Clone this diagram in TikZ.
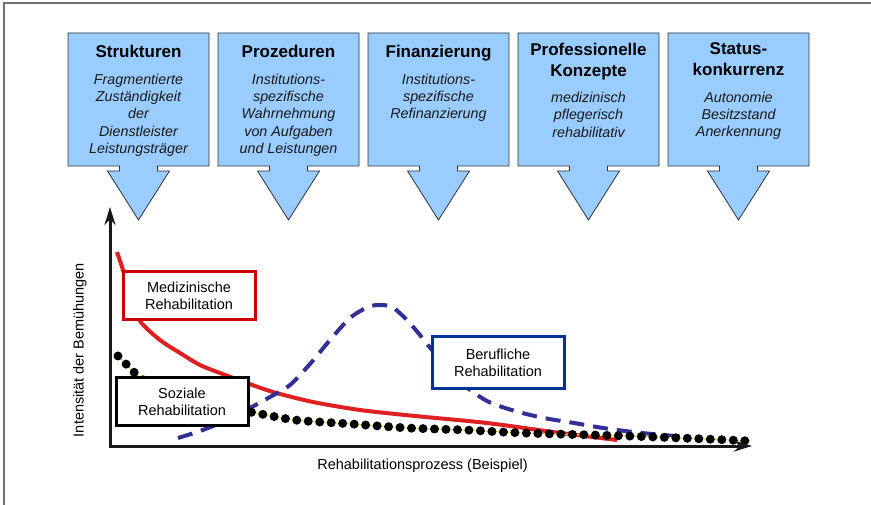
\documentclass[tikz,border=0pt]{standalone}
\usepackage{fontspec}
\setmainfont{Liberation Sans}
\usetikzlibrary{arrows,arrows.meta,positioning}

\definecolor{calloutblue}{RGB}{153,204,255}
\definecolor{framegray}{RGB}{112,112,112}
\definecolor{medred}{RGB}{222,32,32}
\definecolor{boxred}{RGB}{204,0,0}
\definecolor{berblue}{RGB}{48,48,150}
\definecolor{boxblue}{RGB}{0,51,153}
\definecolor{sozyellow}{RGB}{240,230,40}

\begin{document}
\begin{tikzpicture}[x=1pt, y=-1pt, >={Stealth[length=18pt,width=11pt]}]
\tikzstyle{callout}=[fill=calloutblue,draw=black!80,line width=0.8pt]
\tikzstyle{head}=[anchor=north,align=center,inner sep=0pt,font=\fontsize{17}{21}\selectfont\bfseries,execute at begin node=\strut,execute at end node=\strut]
\tikzstyle{body}=[align=center,inner sep=0pt,text=black!90,font=\fontsize{14.3}{17.3}\selectfont\itshape,execute at begin node=\strut,execute at end node=\strut]
\tikzstyle{rehabox}=[draw,line width=3pt,fill=white,minimum width=132pt,align=center,font=\fontsize{14.5}{17}\selectfont]
\tikzstyle{axis}=[line width=3pt,draw=black!90]
\tikzstyle{axislabel}=[inner sep=0pt,font=\fontsize{14.5}{17}\selectfont]

\useasboundingbox (0,0) rectangle (871,505);
\draw[framegray,line width=2pt] (871,3) -- (4,3) -- (4,505);

% the five influence boxes with their arrows
\draw[callout] (68,33) -- ++(141,0) -- ++(0,133) -- ++(-51.5,0) -- ++(0,5) -- ++(12,0) -- ++(-31,49) -- ++(-31,-49) -- ++(12,0) -- ++(0,-5) -- ++(-51.5,0) -- cycle;
\draw[callout] (218,33) -- ++(141,0) -- ++(0,133) -- ++(-51.5,0) -- ++(0,5) -- ++(12,0) -- ++(-31,49) -- ++(-31,-49) -- ++(12,0) -- ++(0,-5) -- ++(-51.5,0) -- cycle;
\draw[callout] (368,33) -- ++(141,0) -- ++(0,133) -- ++(-51.5,0) -- ++(0,5) -- ++(12,0) -- ++(-31,49) -- ++(-31,-49) -- ++(12,0) -- ++(0,-5) -- ++(-51.5,0) -- cycle;
\draw[callout] (518,33) -- ++(141,0) -- ++(0,133) -- ++(-51.5,0) -- ++(0,5) -- ++(12,0) -- ++(-31,49) -- ++(-31,-49) -- ++(12,0) -- ++(0,-5) -- ++(-51.5,0) -- cycle;
\draw[callout] (668,33) -- ++(141,0) -- ++(0,133) -- ++(-51.5,0) -- ++(0,5) -- ++(12,0) -- ++(-31,49) -- ++(-31,-49) -- ++(12,0) -- ++(0,-5) -- ++(-51.5,0) -- cycle;

\node[head] (s1) at (138.5,42.8) {Strukturen};
\node[head] (s2) at (288.5,42.8) {Prozeduren};
\node[head] (s3) at (438.5,42.8) {Finanzierung};
\node[head] (s4) at (588.5,42.8) {Professionelle\\Konzepte};
\node[head] (s5) at (738.5,42.8) {Status-\\konkurrenz};

\node[body,below=9.4pt of s1] (d1) {Fragmentierte\\Zuständigkeit\\der\\Dienstleister\\Leistungsträger};
\node[body,below=9.4pt of s2] (d2) {Institutions-\\spezifische\\Wahrnehmung\\von Aufgaben\\und Leistungen};
\node[body,below=9.4pt of s3] (d3) {Institutions-\\spezifische\\Refinanzierung};
\node[body,below=9.1pt of s4] (d4) {medizinisch\\pflegerisch\\rehabilitativ};
\node[body,below=9.1pt of s5] (d5) {Autonomie\\Besitzstand\\Anerkennung};

% chart
\coordinate (O) at (110,446);
\coordinate (xend) at (752,446);
\coordinate (yend) at (110,207);

\draw[medred,line width=4pt] plot[smooth] coordinates {(117,252) (123,270) (131,297) (140,321) (160,340) (180,353) (200,365) (220,373) (247,383) (273,392) (313,402) (360,410) (415,416) (487,423) (553,432) (617,440)};
\draw[berblue,line width=4pt,dash pattern=on 15pt off 9pt] plot[smooth] coordinates {(178,438) (200,431) (225,421) (250,408) (270,397) (290,385) (310,364) (330,340) (350,318) (368,307) (380,305) (392,307) (405,318) (420,335) (440,360) (460,382) (487,401) (515,411) (544,418) (574,423) (603,428) (633,432) (663,435) (690,437)};
\draw[sozyellow,line width=1pt] plot[smooth] coordinates {(118,356) (127,365) (136,374) (150,385) (170,396) (200,405) (250,412) (295,420) (352,424) (408,428) (465,430) (524,433) (627,436) (705,439) (750,441)};
\draw[black,line width=9pt,line cap=round,dash pattern=on 0pt off 11.5pt] plot[smooth] coordinates {(118,356) (127,365) (136,374) (150,385) (170,396) (200,405) (250,412) (295,420) (352,424) (408,428) (465,430) (524,433) (627,436) (705,439) (750,441)};

\draw[axis,<->] (yend) -- (O) -- (xend);

\node[rehabox,draw=boxred,minimum height=48pt] (med) at (189,296) {Medizinische\\Rehabilitation};
\node[rehabox,draw=black,minimum height=48pt] (soz) at (182,401.5) {Soziale\\Rehabilitation};
\node[rehabox,draw=boxblue,minimum height=51pt] (ber) at (498,362.5) {Berufliche\\Rehabilitation};

\node[axislabel] (xlab) at (422.5,466) {Rehabilitationsprozess (Beispiel)};
\node[axislabel,rotate=90] (ylab) at (80,350) {Intensität der Bemühungen};
\end{tikzpicture}
\end{document}
